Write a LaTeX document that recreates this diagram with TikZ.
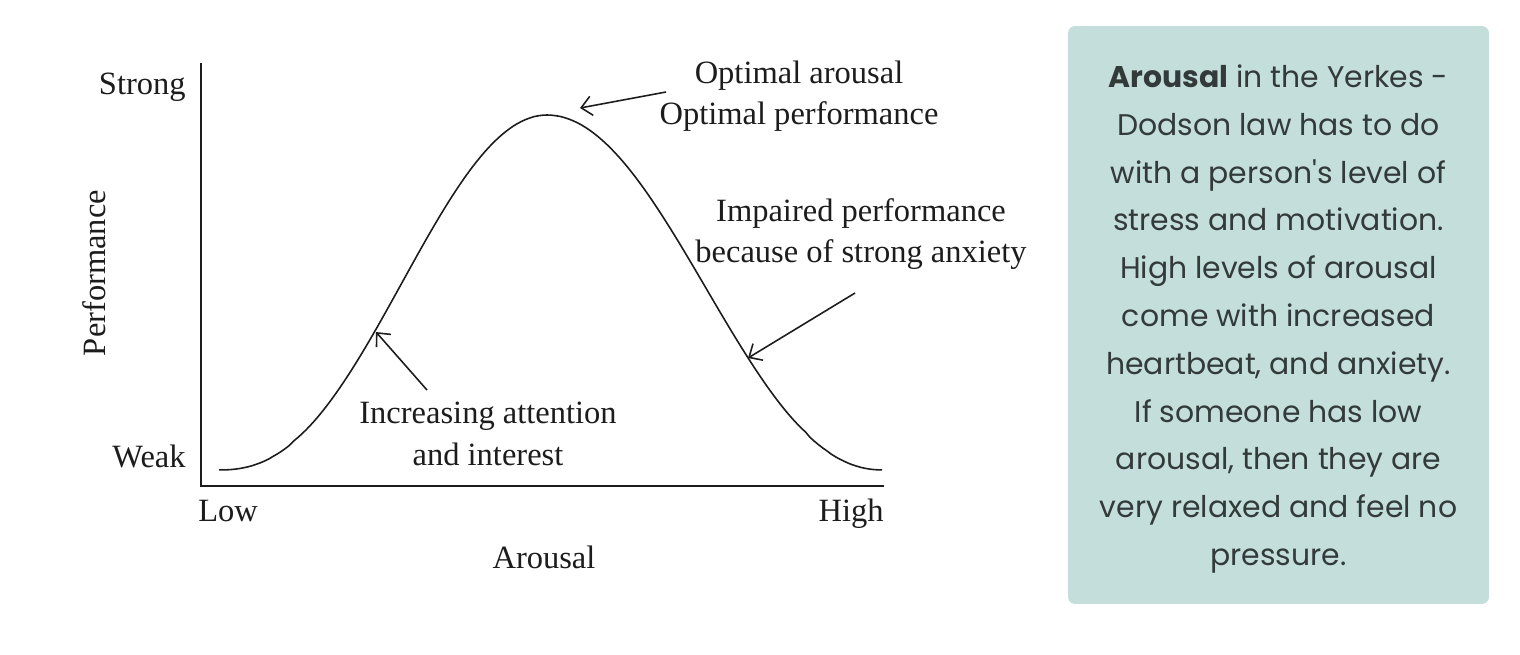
\documentclass[tikz,border=0pt]{standalone}
\usepackage{fontspec}
\setmainfont{Liberation Serif}
\newfontfamily\boxfont{Poppins}
\usetikzlibrary{arrows.meta,positioning}
\definecolor{boxgreen}{HTML}{C3DEDB}
\definecolor{boxtext}{HTML}{333B3A}
\definecolor{ink}{HTML}{1C1C1C}

\begin{document}
\begin{tikzpicture}[x=0.02cm,y=-0.02cm,
  axis/.style={line width=1.1pt,draw=ink},
  curve/.style={line width=0.9pt,draw=ink},
  pointer/.style={-{Straight Barb[length=6pt,width=11pt]},line width=0.9pt,draw=ink},
  lbl/.style={font=\fontsize{18.5}{23.5}\selectfont,text=ink,align=center,inner sep=0pt},
  infobox/.style={fill=boxgreen,rounded corners=4pt,minimum width=8.42cm,minimum height=11.56cm,inner sep=0pt},
  infotext/.style={align=center,text=boxtext,font=\boxfont\fontsize{17}{27.2}\selectfont,inner sep=0pt}]

  \useasboundingbox (0,0) rectangle (1520,654);

  % axes
  \coordinate (origin) at (201,486);
  \coordinate (ytop) at (201,63);
  \coordinate (xend) at (884,486);
  \draw[axis] (ytop) -- (origin) -- (xend);

  % axis labels
  \node[lbl,anchor=base east] (strong) at (186,94) {Strong};
  \node[lbl,anchor=base east] (weak) at (186,467) {Weak};
  \node[lbl,anchor=base west] (low) at (198,521) {Low};
  \node[lbl,anchor=base east] (high) at (884,521) {High};
  \node[lbl,anchor=base] (xlabel) at (544,568) {Arousal};
  \node[lbl,anchor=base,rotate=90] (ylabel) at (105,273) {Performance};

  % the curve, rising and falling half
  \draw[curve] plot[domain=219:547,samples=80]
    (\x,{470-355*exp(1.23*ln(max(0.001,(1+cos((\x-547)/330*180))/2)))})
    -- plot[domain=547:882,samples=80]
    (\x,{470-355*exp(1.1*ln(max(0.001,(1+cos((\x-547)/337*180))/2)))});

  % notes
  \node[lbl] (optimal) at (799,96) {Optimal arousal\\Optimal performance};
  \node[lbl] (impaired) at (861,234) {Impaired performance\\because of strong anxiety};
  \node[lbl] (increasing) at (488,434) {Increasing attention\\and interest};

  \coordinate (peak) at (580,108);
  \coordinate (optstart) at (666,92);
  \coordinate (fall) at (748,358);
  \coordinate (impstart) at (855,293);
  \coordinate (rise) at (376,332);
  \coordinate (incstart) at (427,390);
  \draw[pointer] (optstart) -- (peak);
  \draw[pointer] (impstart) -- (fall);
  \draw[pointer] (incstart) -- (rise);

  % text box
  \node[infobox] (info) at (1278.5,315) {};
  \node[infotext] (infotext) at (1278.5,319) {%
    \textbf{Arousal} in the Yerkes -\\
    Dodson law has to do\\
    with a person's level of\\
    stress and motivation.\\
    High levels of arousal\\
    come with increased\\
    heartbeat, and anxiety.\\
    If someone has low\\
    arousal, then they are\\
    very relaxed and feel no\\
    pressure.};
\end{tikzpicture}
\end{document}
